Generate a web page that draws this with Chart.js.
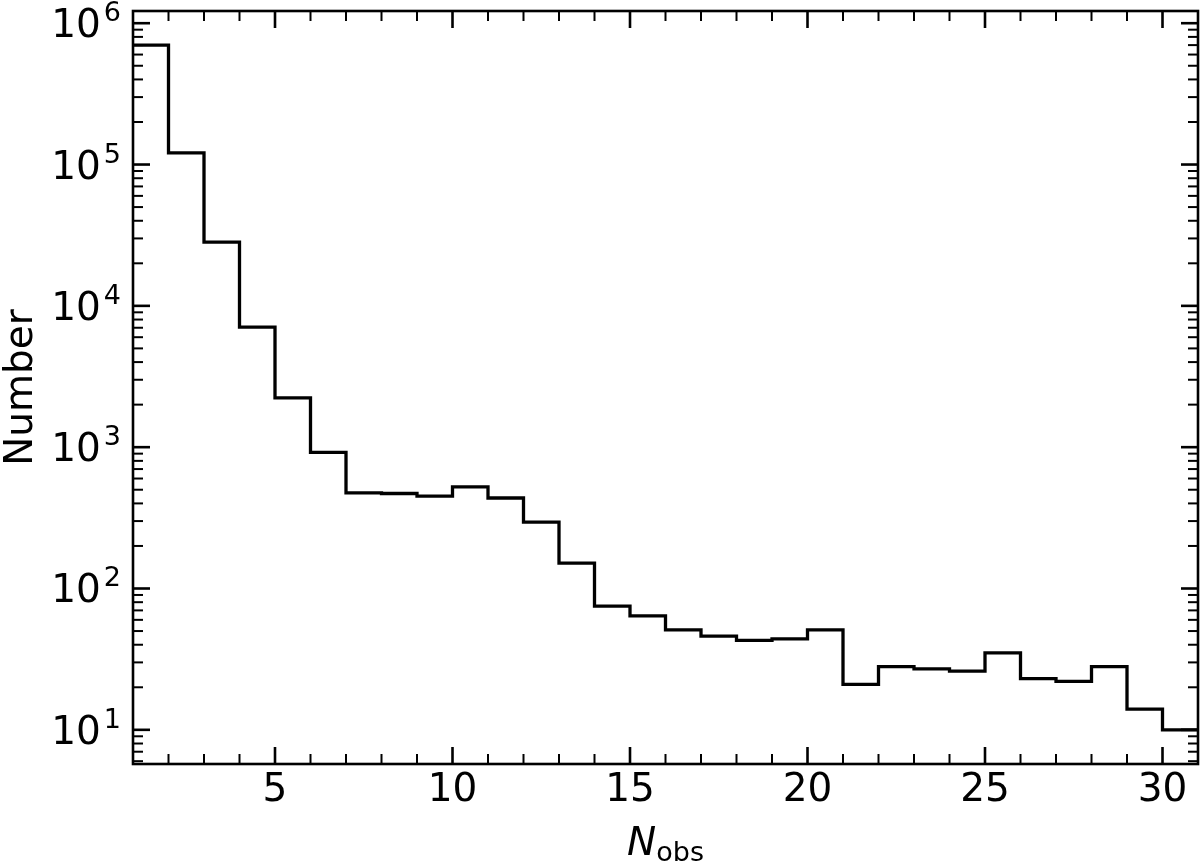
<!DOCTYPE html>
<html>
<head>
<meta charset="utf-8">
<script src="https://cdn.jsdelivr.net/npm/chart.js@4.4.1/dist/chart.umd.min.js"></script>
<style>
	html, body { margin: 0; padding: 0; background: #fff; }
	#wrap { width: 1200px; height: 863px; }
</style>
</head>
<body>
<div id="wrap"><canvas id="hist" width="1200" height="863"></canvas></div>
<script>
/* data */
const binEdges = [1, 2, 3, 4, 5, 6, 7, 8, 9, 10, 11, 12, 13, 14, 15, 16, 17, 18, 19, 20, 21, 22, 23, 24, 25, 26, 27, 28, 29, 30, 31];
const counts = [700000, 121000, 28200, 7080, 2230, 918, 475, 470, 451, 524, 437, 295, 151, 75, 64, 51, 46, 43, 44, 51, 21, 28, 27, 26, 35, 23, 22, 28, 14, 10];
const xMajorTicks = [5, 10, 15, 20, 25, 30];
const yDecades = [1, 2, 3, 4, 5, 6];
const xLimits = [1, 31];
const yLimits = [5.73, 1.22e6];

const FONT = 'DejaVu Sans';

/* step points: each count held from its left edge to the next edge */
const stepPoints = counts
	.map((c, i) => ({ x: binEdges[i], y: c }))
	.concat({ x: binEdges[binEdges.length - 1], y: counts[counts.length - 1] });

const line = (ctx, x0, y0, x1, y1, w) => {
	ctx.lineWidth = w;
	ctx.beginPath();
	ctx.moveTo(x0, y0);
	ctx.lineTo(x1, y1);
	ctx.stroke();
};

/* inward ticks on all four sides, frame, log labels and axis titles */
const axesDecor = {
	id: 'axesDecor',
	afterDatasetsDraw(chart) {
		const { ctx, chartArea: { left, right, top, bottom }, scales: { x, y } } = chart;
		ctx.save();
		ctx.strokeStyle = '#000';
		ctx.lineCap = 'butt';

		for (let v = xLimits[0] + 1; v < xLimits[1]; v++) {
			const px = x.getPixelForValue(v);
			const major = xMajorTicks.includes(v);
			const len = major ? 17 : 10;
			const w = major ? 2.6 : 2;
			line(ctx, px, bottom, px, bottom - len, w);
			line(ctx, px, top, px, top + len, w);
		}

		for (let d = 0; d <= 6; d++) {
			for (let m = 1; m <= 9; m++) {
				const v = m * Math.pow(10, d);
				if (v < yLimits[0] || v > yLimits[1]) continue;
				const py = y.getPixelForValue(v);
				const major = m === 1;
				const len = major ? 17 : 10;
				const w = major ? 2.6 : 2;
				line(ctx, left, py, left + len, py, w);
				line(ctx, right, py, right - len, py, w);
			}
		}

		ctx.lineWidth = 2.6;
		ctx.strokeRect(left, top, right - left, bottom - top);

		ctx.fillStyle = '#000';
		ctx.textBaseline = 'alphabetic';
		yDecades.forEach((d) => {
			const py = y.getPixelForValue(Math.pow(10, d));
			ctx.font = `27px "${FONT}"`;
			ctx.textAlign = 'right';
			const supW = ctx.measureText(String(d)).width;
			ctx.fillText(String(d), left - 12, py - 2);
			ctx.font = `39px "${FONT}"`;
			ctx.fillText('10', left - 12 - supW - 3, py + 14);
		});

		/* y title */
		ctx.save();
		ctx.translate(32, (top + bottom) / 2);
		ctx.rotate(-Math.PI / 2);
		ctx.textAlign = 'center';
		ctx.font = `39px "${FONT}"`;
		ctx.fillText('Number', 0, 0);
		ctx.restore();

		/* x title: italic N with upright subscript */
		ctx.textAlign = 'left';
		ctx.font = `italic 39px "${FONT}"`;
		const nW = ctx.measureText('N').width;
		ctx.font = `27px "${FONT}"`;
		const subW = ctx.measureText('obs').width;
		const startX = (left + right) / 2 - (nW + subW) / 2;
		ctx.font = `italic 39px "${FONT}"`;
		ctx.fillText('N', startX, 855);
		ctx.font = `27px "${FONT}"`;
		ctx.fillText('obs', startX + nW, 861);

		ctx.restore();
	},
};

new Chart(document.getElementById('hist'), {
	type: 'line',
	data: {
		datasets: [
			{
				data: stepPoints,
				stepped: 'before',
				borderColor: '#000',
				borderWidth: 3.3,
				borderJoinStyle: 'miter',
				pointRadius: 0,
				fill: false,
			},
		],
	},
	options: {
		responsive: false,
		animation: false,
		devicePixelRatio: 1,
		layout: {
			padding: { top: 11, right: 2, left: 0, bottom: 0 },
		},
		plugins: {
			legend: { display: false },
			tooltip: { enabled: false },
		},
		scales: {
			x: {
				type: 'linear',
				position: 'bottom',
				min: xLimits[0],
				max: xLimits[1],
				grid: { display: false, drawTicks: false },
				border: { display: false },
				afterBuildTicks: (scale) => {
					scale.ticks = xMajorTicks.map((v) => ({ value: v }));
				},
				afterFit: (scale) => {
					scale.height = 99;
				},
				ticks: {
					autoSkip: false,
					maxRotation: 0,
					padding: 3,
					color: '#000',
					font: { family: FONT, size: 39 },
				},
			},
			y: {
				type: 'logarithmic',
				position: 'left',
				min: yLimits[0],
				max: yLimits[1],
				grid: { display: false, drawTicks: false },
				border: { display: false },
				ticks: { display: false },
				afterFit: (scale) => {
					scale.width = 133;
				},
			},
		},
	},
	plugins: [axesDecor],
});
</script>
</body>
</html>
